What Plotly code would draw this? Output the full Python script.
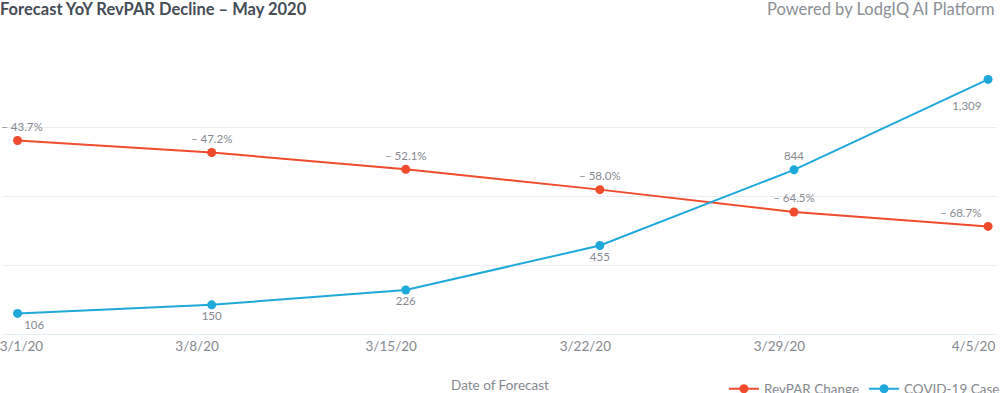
import plotly.graph_objects as go

dates = ["3/1/20", "3/8/20", "3/15/20", "3/22/20", "3/29/20", "4/5/20"]
revpar_change = [-43.7, -47.2, -52.1, -58.0, -64.5, -68.7]
covid_cases = [106, 150, 226, 455, 844, 1309]

RED = "#f04b2c"
BLUE = "#1fa9da"
LABEL = "#85898f"
FONT = "Lato, 'Open Sans', sans-serif"

xs = list(range(len(dates)))
revpar_text = [f"{v:.1f}%".replace("-", "\u2013 ") for v in revpar_change]
revpar_text[0] = "\u00a0\u00a0\u00a0" + revpar_text[0]
covid_text = [f"{v:,}" for v in covid_cases]
covid_text[-1] = "<br>" + covid_text[-1]

fig = go.Figure()
fig.add_trace(go.Scatter(
    x=xs, y=revpar_change, name="RevPAR Change", mode="lines+markers+text",
    line=dict(color=RED, width=2), marker=dict(color=RED, size=9),
    text=revpar_text,
    textposition=["top center", "top center", "top center", "top center", "top center", "top left"],
    textfont=dict(color=LABEL, size=11.5, family=FONT),
    cliponaxis=False, yaxis="y",
))
fig.add_trace(go.Scatter(
    x=xs, y=covid_cases, name="COVID-19 Cases", mode="lines+markers+text",
    line=dict(color=BLUE, width=2), marker=dict(color=BLUE, size=9),
    text=covid_text,
    textposition=["bottom right", "bottom center", "bottom center", "bottom center", "top center", "bottom left"],
    textfont=dict(color=LABEL, size=11.5, family=FONT),
    cliponaxis=False, yaxis="y2",
))

tick_offset = 0.075
tickvals = [i - tick_offset for i in xs]
tickvals[0] = 0.02

fig.update_layout(
    width=1000, height=393, autosize=False,
    margin=dict(l=3, r=3, t=59, b=59, autoexpand=False),
    paper_bgcolor="white", plot_bgcolor="white",
    font=dict(family=FONT, color=LABEL),
    showlegend=True,
    legend=dict(orientation="h", xanchor="right", x=1.014, yanchor="middle", y=-0.2,
                font=dict(size=13.5, color=LABEL), bgcolor="rgba(0,0,0,0)",
                itemwidth=30, tracegroupgap=0),
    title=dict(text="<b>Forecast YoY RevPAR Decline \u2013 May 2020</b>",
               xref="container", x=0.0, xanchor="left", yref="container", y=0.977, yanchor="middle",
               font=dict(size=16.5, color="#454c56", family=FONT)),
    annotations=[dict(text="Powered by LodgIQ AI Platform", xref="paper", yref="paper",
                      x=1.0, y=1 + 50 / 275, xanchor="right", yanchor="middle", showarrow=False,
                      font=dict(size=16.5, color="#8a8f96", family=FONT))],
    xaxis=dict(range=[-tick_offset, 5.046], tickvals=tickvals, ticktext=dates,
               showgrid=False, zeroline=False, showline=True, linecolor="#e2eef4", linewidth=1,
               ticks="outside", ticklen=4, tickcolor="#e2eef4", ticklabeloverflow="allow",
               ticklabelstandoff=-4,
               tickfont=dict(size=13.5, color=LABEL),
               title=dict(text="Date of Forecast", standoff=38, font=dict(size=13.5, color=LABEL))),
    yaxis=dict(range=[-100, -20], dtick=20, showgrid=True, gridcolor="#ececec",
               showticklabels=False, zeroline=False, showline=False, ticks=""),
    yaxis2=dict(range=[0, 1414], overlaying="y", side="right", showgrid=False,
                showticklabels=False, zeroline=False, showline=False, ticks=""),
)

fig.write_html(
    "out.html",
    config={"responsive": False, "displayModeBar": False},
    post_script="document.body.style.margin='0';",
)
